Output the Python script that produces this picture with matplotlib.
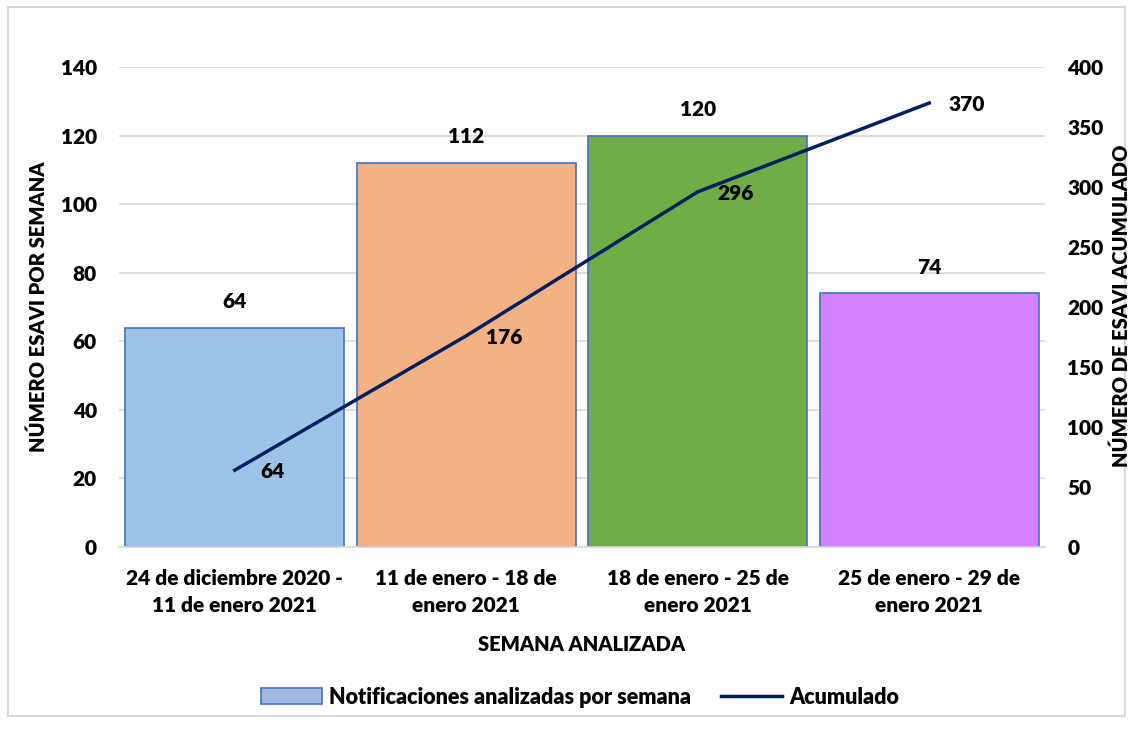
import matplotlib
matplotlib.use("Agg")
import matplotlib.pyplot as plt
from matplotlib.patches import Patch, Rectangle
from matplotlib.lines import Line2D

FAM = ['Lato', 'DejaVu Sans']
W = 'heavy'
FS = 15
plt.rcParams['font.family'] = FAM
plt.rcParams['font.weight'] = W

categories = ["24 de diciembre 2020 -\n11 de enero 2021",
              "11 de enero - 18 de\nenero 2021",
              "18 de enero - 25 de\nenero 2021",
              "25 de enero - 29 de\nenero 2021"]
weekly = [64, 112, 120, 74]
cumulative = [64, 176, 296, 370]
bar_colors = ["#9dc3e6", "#f4b183", "#70ad47", "#d580ff"]
line_color = "#002060"
edge_color = "#4472c4"

fig = plt.figure(figsize=(11.33, 7.31), dpi=100)
fig.patches.append(Rectangle((0.007, 0.02), 0.986, 0.97, transform=fig.transFigure,
                             fill=False, edgecolor="#d9d9d9", linewidth=1.5))
ax = fig.add_axes([119/1133, 1-547/731, (1045-119)/1133, 480/731])
x = range(len(categories))
ax.bar(x, weekly, width=0.946, color=bar_colors, edgecolor=edge_color, linewidth=1.2, zorder=2)
ax.set_xlim(-0.5, 3.5)
ax.set_ylim(0, 140)
ax.set_yticks(range(0, 141, 20))
ax.grid(axis='y', color='#d9d9d9', linewidth=1.2, zorder=0)
for s in ['top', 'right', 'left']:
    ax.spines[s].set_visible(False)
ax.spines['bottom'].set_color('#d9d9d9')
ax.spines['bottom'].set_linewidth(1.2)
ax.set_xticks(list(x))
ax.set_xticklabels(categories, fontsize=FS, fontweight=W, linespacing=1.5)
ax.tick_params(axis='x', length=0, pad=16)
ax.tick_params(axis='y', length=0, labelsize=FS, pad=16)
for lbl in ax.get_yticklabels():
    lbl.set_fontweight(W)
for xi, v in zip(x, weekly):
    ax.annotate(str(v), (xi, v), xytext=(0, 12), textcoords='offset points',
                ha='center', va='bottom', fontsize=FS, fontweight=W)
ax.set_ylabel("NÚMERO ESAVI POR SEMANA", fontsize=FS - 0.5, fontweight=W, labelpad=9)
ax.set_xlabel("SEMANA ANALIZADA", fontsize=FS - 0.5, fontweight=W, labelpad=14)

ax2 = ax.twinx()
ax2.set_ylim(0, 400)
ax2.set_yticks(range(0, 401, 50))
for s in ['top', 'right', 'left', 'bottom']:
    ax2.spines[s].set_visible(False)
ax2.tick_params(axis='y', length=0, labelsize=FS, pad=16)
for lbl in ax2.get_yticklabels():
    lbl.set_fontweight(W)
ax2.plot(list(x), cumulative, color=line_color, linewidth=2.5, zorder=3)
for xi, v in zip(x, cumulative):
    ax2.annotate(str(v), (xi, v), xytext=(27, -1), textcoords='offset points',
                 ha='center', va='center', fontsize=FS, fontweight=W)
fig.text(1121/1133, 1-306/731, "NÚMERO DE ESAVI ACUMULADO", rotation=90,
         ha='center', va='center', fontsize=FS - 0.5, fontweight=W)

handles = [Patch(facecolor="#a4b8e4", edgecolor=edge_color, linewidth=1.2),
           Line2D([0], [0], color=line_color, linewidth=2.5)]
fig.legend(handles, ["Notificaciones analizadas por semana", "Acumulado"],
           loc='center', bbox_to_anchor=(0.512, 1-697/731), ncol=2, frameon=False,
           prop={'family': FAM, 'weight': W, 'size': FS + 0.5},
           handlelength=2.8, handleheight=0.7, handletextpad=0.35, columnspacing=1.4)

fig.savefig("out.png", dpi=100)
